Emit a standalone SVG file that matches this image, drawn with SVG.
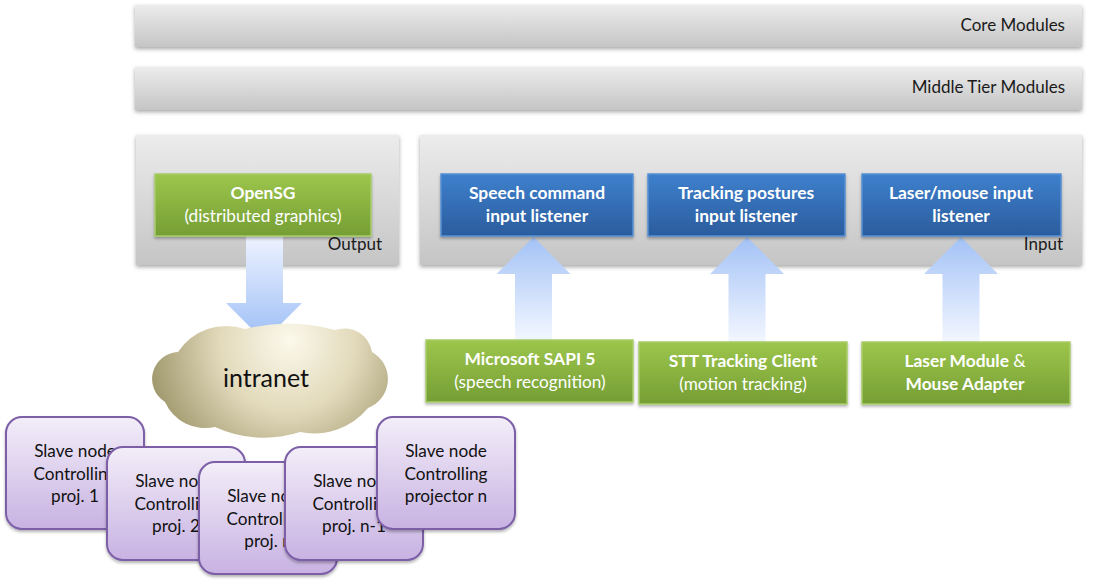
<svg xmlns="http://www.w3.org/2000/svg" width="1093" height="585" viewBox="0 0 1093 585">
  <defs>
    <linearGradient id="gGray" x1="0" y1="0" x2="0" y2="1">
      <stop offset="0" stop-color="#ececec"/>
      <stop offset="1" stop-color="#c5c5c5"/>
    </linearGradient>
    <linearGradient id="gGreen" x1="0" y1="0" x2="0" y2="1">
      <stop offset="0" stop-color="#9dc64c"/>
      <stop offset="1" stop-color="#759e35"/>
    </linearGradient>
    <linearGradient id="gBlue" x1="0" y1="0" x2="0" y2="1">
      <stop offset="0" stop-color="#3e80cd"/>
      <stop offset="1" stop-color="#2b5c9d"/>
    </linearGradient>
    <linearGradient id="gPurple" x1="0" y1="0" x2="0" y2="1">
      <stop offset="0" stop-color="#f3eef9"/>
      <stop offset="1" stop-color="#c8b2e2"/>
    </linearGradient>
    <linearGradient id="gArrowUp" x1="0" y1="0" x2="0" y2="1">
      <stop offset="0" stop-color="#a3c2f6"/>
      <stop offset="1" stop-color="#f3f7ff"/>
    </linearGradient>
    <linearGradient id="gArrowDown" x1="0" y1="0" x2="0" y2="1">
      <stop offset="0" stop-color="#eef3ff"/>
      <stop offset="1" stop-color="#9dbef6"/>
    </linearGradient>
    <radialGradient id="gCloud" gradientUnits="userSpaceOnUse" cx="285" cy="348" r="150" fx="290" fy="340">
      <stop offset="0" stop-color="#fcf9ec"/>
      <stop offset="0.45" stop-color="#e2dabb"/>
      <stop offset="1" stop-color="#958d60"/>
    </radialGradient>
    <filter id="shadow" x="-10%" y="-20%" width="120%" height="150%">
      <feDropShadow dx="0" dy="2" stdDeviation="2" flood-color="#000" flood-opacity="0.35"/>
    </filter>
    <filter id="shadowS" x="-10%" y="-20%" width="120%" height="150%">
      <feDropShadow dx="0" dy="2" stdDeviation="1.5" flood-color="#000" flood-opacity="0.3"/>
    </filter>
  </defs>
  <style>
    text { font-family: "Lato", "Open Sans", sans-serif; }
    .panel { fill: url(#gGray); filter: url(#shadow); }
    .lbl { font-size: 17px; fill: #1a1a1a; text-anchor: end; }
    .green { fill: url(#gGreen); stroke: #a8cc6a; stroke-width: 1.5; filter: url(#shadowS); }
    .blue { fill: url(#gBlue); stroke: #5790d4; stroke-width: 1.5; filter: url(#shadowS); }
    .wb { font-size: 17.4px; font-weight: bold; fill: #ffffff; text-anchor: middle; }
    .wn { font-size: 17.2px; fill: #ffffff; text-anchor: middle; }
    .slave { fill: url(#gPurple); stroke: #7b5ea7; stroke-width: 2; filter: url(#shadowS); }
    .st { font-size: 17.2px; fill: #111111; text-anchor: middle; }
    .arrUp { fill: url(#gArrowUp); }
    .arrDown { fill: url(#gArrowDown); }
  </style>

  <rect width="1093" height="585" fill="#ffffff"/>

  <g id="core-modules">
    <rect class="panel" x="135" y="5" width="947" height="42"/>
    <text class="lbl" x="1065" y="31">Core Modules</text>
  </g>
  <g id="middle-tier-modules">
    <rect class="panel" x="135" y="67" width="947" height="43"/>
    <text class="lbl" x="1065" y="93">Middle Tier Modules</text>
  </g>
  <g id="output-panel">
    <rect class="panel" x="136" y="135" width="263" height="130"/>
    <text class="lbl" x="382" y="250">Output</text>
  </g>
  <g id="input-panel">
    <rect class="panel" x="420" y="135" width="662" height="130"/>
    <text class="lbl" x="1063" y="250">Input</text>
  </g>

  <g id="connectors">
    <polygon class="arrDown" points="246,236 283,236 283,303 302,303 264,341 226,303 246,303"/>
    <polygon class="arrUp" points="533.5,237 570.5,274 552,274 552,340 515,340 515,274 496.5,274"/>
    <polygon class="arrUp" points="747,237 784,274 765.5,274 765.5,342 728.5,342 728.5,274 710,274"/>
    <polygon class="arrUp" points="961,237 998,274 979.5,274 979.5,342 942.5,342 942.5,274 924,274"/>
  </g>

  <g id="opensg">
    <rect class="green" x="155" y="174" width="216" height="62"/>
    <text class="wb" x="263" y="199">OpenSG</text>
    <text class="wn" x="263" y="222">(distributed graphics)</text>
  </g>
  <g id="speech-listener">
    <rect class="blue" x="441" y="174" width="192" height="62"/>
    <text class="wb" x="537" y="199">Speech command</text>
    <text class="wb" x="537" y="222">input listener</text>
  </g>
  <g id="tracking-listener">
    <rect class="blue" x="648" y="174" width="197" height="62"/>
    <text class="wb" x="746" y="199">Tracking postures</text>
    <text class="wb" x="746" y="222">input listener</text>
  </g>
  <g id="laser-listener">
    <rect class="blue" x="862" y="174" width="199" height="62"/>
    <text class="wb" x="961" y="199">Laser/mouse input</text>
    <text class="wb" x="961" y="222">listener</text>
  </g>

  <g id="sapi">
    <rect class="green" x="426" y="340" width="207" height="62"/>
    <text class="wb" x="530" y="365">Microsoft SAPI 5</text>
    <text class="wn" x="530" y="388">(speech recognition)</text>
  </g>
  <g id="stt">
    <rect class="green" x="639" y="342" width="208" height="62"/>
    <text class="wb" x="743" y="367">STT Tracking Client</text>
    <text class="wn" x="743" y="390">(motion tracking)</text>
  </g>
  <g id="laser-module">
    <rect class="green" x="862" y="342" width="208" height="62"/>
    <text class="wb" x="965" y="367">Laser Module <tspan font-weight="normal">&amp;</tspan></text>
    <text class="wb" x="965" y="390">Mouse Adapter</text>
  </g>

  <g id="intranet">
    <path fill="url(#gCloud)" d="M 165 402
      A 27 27 0 0 1 178 352
      A 58 58 0 0 1 245 329
      A 172 172 0 0 1 335 330
      A 28 28 0 0 1 372 352
      A 31 31 0 0 1 368 408
      A 70 70 0 0 1 300 432
      A 117 117 0 0 1 215 427
      A 44 44 0 0 1 165 402 Z"/>
    <text x="266" y="387" font-size="25" fill="#111111" text-anchor="middle">intranet</text>
  </g>

  <g id="slave-1">
    <rect class="slave" x="6" y="417" width="138" height="112" rx="16"/>
    <text class="st" x="75" y="457">Slave node</text>
    <text class="st" x="75" y="480">Controlling</text>
    <text class="st" x="75" y="502">proj. 1</text>
  </g>
  <g id="slave-2">
    <rect class="slave" x="107" y="447" width="138" height="113" rx="16"/>
    <text class="st" x="176" y="487">Slave node</text>
    <text class="st" x="176" y="510">Controlling</text>
    <text class="st" x="176" y="532">proj. 2</text>
  </g>
  <g id="slave-3">
    <rect class="slave" x="199" y="462" width="138" height="112" rx="16"/>
    <text class="st" x="268" y="502">Slave node</text>
    <text class="st" x="268" y="525">Controlling</text>
    <text class="st" x="268" y="547">proj. n</text>
  </g>
  <g id="slave-4">
    <rect class="slave" x="285" y="447" width="138" height="113" rx="16"/>
    <text class="st" x="354" y="487">Slave node</text>
    <text class="st" x="354" y="510">Controlling</text>
    <text class="st" x="354" y="532">proj. n-1</text>
  </g>
  <g id="slave-5">
    <rect class="slave" x="377" y="417" width="138" height="112" rx="16"/>
    <text class="st" x="446" y="457">Slave node</text>
    <text class="st" x="446" y="480">Controlling</text>
    <text class="st" x="446" y="502">projector n</text>
  </g>
</svg>
